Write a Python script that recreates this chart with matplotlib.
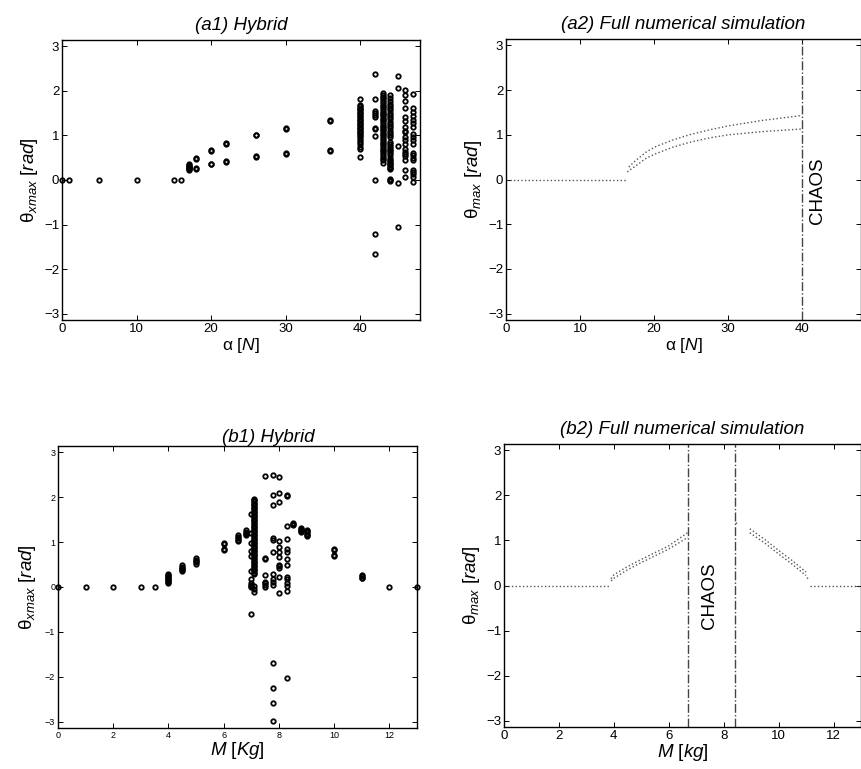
import matplotlib
matplotlib.use('Agg')
import matplotlib.pyplot as plt

plt.rcParams['font.family'] = ['Liberation Sans', 'DejaVu Sans']
plt.rcParams['mathtext.fontset'] = 'custom'
plt.rcParams['mathtext.rm'] = 'Liberation Sans'
plt.rcParams['mathtext.it'] = 'Liberation Sans:italic'

# (a1) hybrid, theta_xmax vs alpha
a1_x = [0, 1, 5, 10, 15, 16, 17, 18, 20, 22, 26, 30, 36, 40, 42, 43, 44, 45, 46, 47]
a1_y = [
    [0.0], [0.0], [0.0], [0.0], [0.0], [0.0],
    [0.22, 0.24, 0.26, 0.28, 0.3, 0.32, 0.34, 0.36],
    [0.47, 0.49, 0.25, 0.27],
    [0.66, 0.68, 0.35, 0.37],
    [0.8, 0.82, 0.41, 0.43],
    [1.0, 1.02, 0.52, 0.54],
    [1.15, 1.17, 0.59, 0.61],
    [1.33, 1.35, 0.66, 0.68],
    [1.82, 1.68, 1.65, 1.62, 1.59, 1.56, 1.53, 1.5, 1.47, 1.44, 1.41, 1.38, 1.35, 1.32,
     1.29, 1.26, 1.23, 1.2, 1.17, 1.14, 1.11, 1.08, 1.05, 1.02, 0.98, 0.94, 0.9, 0.85,
     0.8, 0.75, 0.7, 0.52],
    [2.38, 1.81, 1.55, 1.5, 1.46, 1.42, 1.17, 1.15, 0.98, 0.01, -1.22, -1.65],
    [1.95, 1.91, 1.87, 1.83, 1.79, 1.75, 1.71, 1.67, 1.63, 1.59, 1.55, 1.51, 1.48, 1.45,
     1.42, 1.38, 1.34, 1.3, 1.26, 1.22, 1.18, 1.15, 1.12, 1.08, 1.04, 1.0, 0.96, 0.92,
     0.88, 0.84, 0.8, 0.76, 0.72, 0.68, 0.64, 0.6, 0.56, 0.52, 0.48, 0.44, 0.38],
    [1.9, 1.83, 1.77, 1.71, 1.66, 1.61, 1.56, 1.51, 1.46, 1.41, 1.36, 1.31, 1.26, 1.21,
     1.16, 1.11, 1.06, 1.01, 0.96, 0.85, 0.8, 0.76, 0.72, 0.68, 0.64, 0.6, 0.55, 0.5,
     0.46, 0.42, 0.39, 0.36, 0.33, 0.3, 0.27, 0.24, 0.02, 0.0, -0.02],
    [2.34, 2.07, 0.76, -0.07, -1.05],
    [2.01, 1.9, 1.78, 1.61, 1.41, 1.32, 1.19, 1.1, 1.07, 0.96, 0.89, 0.81, 0.7, 0.63,
     0.58, 0.53, 0.44, 0.22, 0.07],
    [1.94, 1.61, 1.52, 1.44, 1.35, 1.27, 1.19, 1.04, 0.96, 0.89, 0.81, 0.61, 0.56, 0.5,
     0.44, 0.22, 0.18, 0.14, 0.07, -0.04],
]

# (a2) full numerical simulation
a2_flat_x = [0, 16.3]
a2_flat_y = [0, 0]
a2_up_x = [16.6, 17.5, 19, 20.3, 22.5, 24.8, 27.5, 30.1, 34.6, 40]
a2_up_y = [0.28, 0.42, 0.62, 0.74, 0.88, 1.0, 1.11, 1.2, 1.32, 1.43]
a2_lo_x = [16.4, 17.5, 19, 20.3, 22.5, 24.8, 27.5, 30.1, 34.6, 40]
a2_lo_y = [0.17, 0.3, 0.48, 0.58, 0.72, 0.83, 0.93, 1.0, 1.07, 1.13]
a2_chaos = [40]

# (b1) hybrid, theta_xmax vs M
b1_x = [0, 1, 2, 3, 3.5, 4, 4.5, 5, 6, 6.5, 6.8, 7.0, 7.1, 7.5, 7.8, 8.0, 8.3, 8.5,
        8.8, 9.0, 10, 11, 12, 13]
b1_y = [
    [0.0], [0.0], [0.0], [0.0], [0.0],
    [0.1, 0.12, 0.14, 0.16, 0.18, 0.2, 0.22, 0.24, 0.26, 0.28],
    [0.35, 0.37, 0.39, 0.42, 0.45, 0.48],
    [0.52, 0.55, 0.58, 0.61, 0.64],
    [0.98, 0.96, 0.84, 0.82],
    [1.15, 1.12, 1.1, 1.02, 1.04],
    [1.26, 1.23, 1.2, 1.17, 1.15],
    [1.62, 1.2, 0.98, 0.8, 0.68, 0.35, 0.18, 0.08, 0.05, 0.03, 0.0, -0.6],
    [1.97, 1.94, 1.91, 1.88, 1.85, 1.82, 1.79, 1.76, 1.73, 1.7, 1.67, 1.64, 1.61, 1.58,
     1.55, 1.52, 1.49, 1.46, 1.43, 1.4, 1.37, 1.34, 1.31, 1.28, 1.25, 1.22, 1.19, 1.16,
     1.13, 1.1, 1.07, 1.04, 1.01, 0.98, 0.95, 0.92, 0.89, 0.86, 0.83, 0.8, 0.77, 0.74,
     0.71, 0.68, 0.65, 0.62, 0.59, 0.56, 0.53, 0.5, 0.47, 0.44, 0.41, 0.38, 0.35, 0.32,
     0.3, 0.02, -0.05, -0.12],
    [2.48, 0.62, 0.64, 0.27, 0.12, 0.08, 0.04, 0.01],
    [2.5, 2.06, 1.83, 1.09, 1.05, 0.79, 0.28, 0.18, 0.12, 0.05, -1.7, -2.24, -2.59, -2.98],
    [2.46, 2.1, 1.9, 1.02, 0.9, 0.78, 0.66, 0.5, 0.46, 0.42, 0.22, -0.14],
    [2.06, 2.03, 1.37, 1.08, 0.85, 0.77, 0.63, 0.5, 0.23, 0.18, 0.08, 0.03, -0.1, -2.03],
    [1.42, 1.4, 1.38],
    [1.32, 1.29, 1.27, 1.24, 1.22],
    [1.28, 1.25, 1.22, 1.19, 1.16, 1.13],
    [0.85, 0.83, 0.71, 0.69],
    [0.26, 0.24, 0.21, 0.19],
    [0.0], [0.0],
]

# (b2) full numerical simulation
b2_flat1_x = [0, 3.85]
b2_flat2_x = [11.15, 13]
b2_left_x = [3.9, 4.0, 4.5, 5, 5.5, 6, 6.7]
b2_left_up = [0.15, 0.24, 0.42, 0.58, 0.73, 0.88, 1.18]
b2_left_lo = [0.1, 0.16, 0.35, 0.51, 0.66, 0.81, 1.07]
b2_mid_x = [8.45, 8.45]
b2_mid_y = [1.42, 1.36]
b2_right_x = [8.95, 9.5, 10, 10.5, 11.0]
b2_right_up = [1.26, 1.02, 0.78, 0.55, 0.3]
b2_right_lo = [1.17, 0.94, 0.7, 0.47, 0.22]
b2_tail_x = [11.05, 11.05]
b2_tail_y = [0.18, 0.12]
b2_chaos = [6.7, 8.4]

PI = 3.14159
yticks = [-3, -2, -1, 0, 1, 2, 3]
ytick_labels = ['\u22123', '\u22122', '\u22121', '0', '1', '2', '3']
dot_col = '#555555'
line_col = '#444444'

fig = plt.figure(figsize=(8.62, 7.69), dpi=100)
W, H = 862.0, 769.0


def make_ax(l, r, t, b):
    return fig.add_axes([l / W, 1 - b / H, (r - l) / W, (b - t) / H])


def style(ax, fs):
    ax.set_ylim(-PI, PI)
    ax.set_yticks(yticks)
    ax.set_yticklabels(ytick_labels)
    ax.tick_params(direction='in', top=True, right=True, length=3.5, width=0.7,
                   labelsize=fs, pad=2)
    for s in ax.spines.values():
        s.set_linewidth(1.0)


def scatter_cols(ax, xs, ys):
    for x, vals in zip(xs, ys):
        ax.plot([x] * len(vals), vals, 'o', ms=3.2, mfc='none', mec='black', mew=1.3,
                clip_on=False)


ax1 = make_ax(62, 420, 40, 320)
scatter_cols(ax1, a1_x, a1_y)
ax1.set_xlim(0, 48)
ax1.set_xticks([0, 10, 20, 30, 40])
style(ax1, 9.5)
ax1.set_title('(a1) Hybrid', fontsize=13.5, style='italic', pad=7)
ax1.set_xlabel(r'$\mathrm{\alpha}\ [N]$', fontsize=12.5, labelpad=1)
ax1.set_ylabel(r'$\mathrm{\theta}_{xmax}\ [rad]$', fontsize=13.5, labelpad=3)

ax2 = make_ax(506, 861, 39, 320)
ax2.plot(a2_flat_x, a2_flat_y, ':', color=dot_col, lw=1)
ax2.plot(a2_up_x, a2_up_y, ':', color=dot_col, lw=1)
ax2.plot(a2_lo_x, a2_lo_y, ':', color=dot_col, lw=1)
for c in a2_chaos:
    ax2.axvline(c, color=line_col, ls='-.', lw=1)
ax2.text(42.1, -0.24, 'CHAOS', rotation=90, fontsize=13.5, ha='center', va='center')
ax2.set_xlim(0, 48)
ax2.set_xticks([0, 10, 20, 30, 40])
style(ax2, 9.5)
ax2.set_title('(a2) Full numerical simulation', fontsize=13.5, style='italic', pad=7)
ax2.set_xlabel(r'$\mathrm{\alpha}\ [N]$', fontsize=12.5, labelpad=1)
ax2.set_ylabel(r'$\mathrm{\theta}_{max}\ [rad]$', fontsize=13.5, labelpad=3)

ax3 = make_ax(58, 417, 446, 728)
scatter_cols(ax3, b1_x, b1_y)
ax3.set_xlim(0, 13)
ax3.set_xticks([0, 2, 4, 6, 8, 10, 12])
style(ax3, 6.5)
ax3.text(0.585, 1.0, '(b1) Hybrid', transform=ax3.transAxes, fontsize=13.5,
         style='italic', ha='center', va='bottom')
ax3.set_xlabel(r'$M\ [Kg]$', fontsize=13.5, labelpad=0)
ax3.set_ylabel(r'$\mathrm{\theta}_{xmax}\ [rad]$', fontsize=13.5, labelpad=5)

ax4 = make_ax(504, 861, 444, 727)
ax4.plot(b2_flat1_x, [0, 0], ':', color=dot_col, lw=1)
ax4.plot(b2_flat2_x, [0, 0], ':', color=dot_col, lw=1)
ax4.plot(b2_left_x, b2_left_up, ':', color=dot_col, lw=1)
ax4.plot(b2_left_x, b2_left_lo, ':', color=dot_col, lw=1)
ax4.plot(b2_mid_x, b2_mid_y, ':', color=dot_col, lw=1)
ax4.plot(b2_right_x, b2_right_up, ':', color=dot_col, lw=1)
ax4.plot(b2_right_x, b2_right_lo, ':', color=dot_col, lw=1)
ax4.plot(b2_tail_x, b2_tail_y, ':', color=dot_col, lw=1)
for c in b2_chaos:
    ax4.axvline(c, color=line_col, ls='-.', lw=1)
ax4.text(7.5, -0.22, 'CHAOS', rotation=90, fontsize=13.5, ha='center', va='center')
ax4.set_xlim(0, 13)
ax4.set_xticks([0, 2, 4, 6, 8, 10, 12])
style(ax4, 9.5)
ax4.set_title('(b2) Full numerical simulation', fontsize=13.5, style='italic', pad=7)
ax4.set_xlabel(r'$M\ [kg]$', fontsize=13.5, labelpad=0)
ax4.set_ylabel(r'$\mathrm{\theta}_{max}\ [rad]$', fontsize=13.5, labelpad=3)

fig.savefig('out.png', dpi=100)
